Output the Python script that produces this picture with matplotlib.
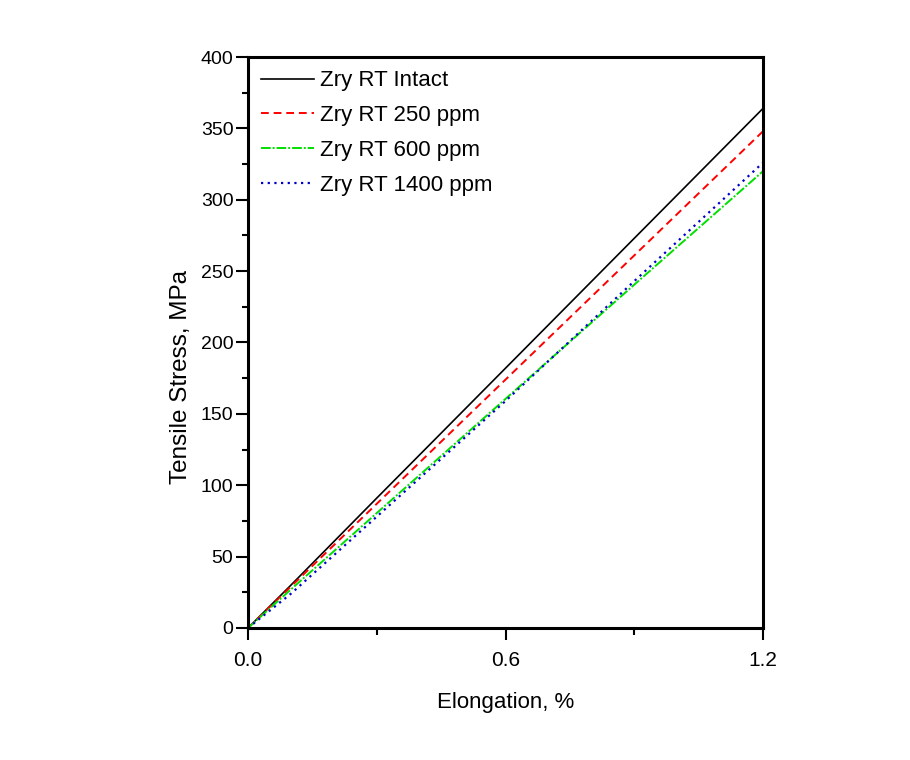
import matplotlib
matplotlib.use("Agg")
import matplotlib.pyplot as plt
from matplotlib.ticker import MultipleLocator

# elongation (%) and stress (MPa)
elong = [0.0, 0.1, 0.3, 0.6, 0.9, 1.2]
intact = [0.0, 30.0, 91.0, 182.0, 273.0, 364.0]
ppm250 = [0.0, 29.0, 87.0, 174.0, 261.0, 348.0]
ppm600 = [0.0, 27.0, 80.5, 160.5, 240.5, 320.0]
ppm1400 = [0.0, 24.0, 78.0, 159.0, 243.0, 326.0]

labels = ["Zry RT Intact", "Zry RT 250 ppm", "Zry RT 600 ppm", "Zry RT 1400 ppm"]

plt.rcParams["font.family"] = ["Liberation Sans", "DejaVu Sans"]

fig = plt.figure(figsize=(9.1, 7.6), dpi=100)
ax = fig.add_axes([0.2725, 0.1737, 0.566, 0.7513])

ax.plot(elong, intact, color="black", lw=1.2, ls="-", label=labels[0])
ax.plot(elong, ppm250, color="#ff0000", lw=1.4, ls=(0, (4, 2.5)), label=labels[1])
ax.plot(elong, ppm600, color="#00e000", lw=1.4, ls=(0, (5, 1, 1, 1)), label=labels[2])
ax.plot(elong, ppm1400, color="#0000cc", lw=1.6, ls=(0, (1, 2)), label=labels[3])

ax.set_xlim(0, 1.2)
ax.set_ylim(0, 400)
ax.xaxis.set_major_locator(MultipleLocator(0.6))
ax.xaxis.set_minor_locator(MultipleLocator(0.3))
ax.yaxis.set_major_locator(MultipleLocator(50))
ax.yaxis.set_minor_locator(MultipleLocator(25))
ax.xaxis.set_major_formatter(plt.FuncFormatter(lambda v, p: f"{v:.1f}"))

for s in ax.spines.values():
    s.set_linewidth(2.2)

ax.tick_params(which="major", direction="out", length=8.5, width=1.5,
               top=False, right=False, pad=2)
ax.tick_params(which="minor", direction="out", length=4, width=1.5,
               top=False, right=False)
ax.tick_params(axis="y", which="major", labelsize=14)
ax.tick_params(axis="x", which="minor", length=5)
ax.tick_params(axis="x", which="major", pad=8, labelsize=15)

ax.set_xlabel("Elongation, %", fontsize=16, labelpad=16)
ax.set_ylabel("Tensile Stress, MPa", fontsize=17.5)
# label sits a bit below the axes middle in the original
ax.yaxis.set_label_coords(-0.108, 0.44)

ax.legend(loc="upper left", frameon=False, fontsize=16,
          handlelength=2.35, handletextpad=0.3, labelspacing=0.62,
          borderaxespad=0.3, borderpad=0.3)

fig.savefig("out.png", dpi=100)
